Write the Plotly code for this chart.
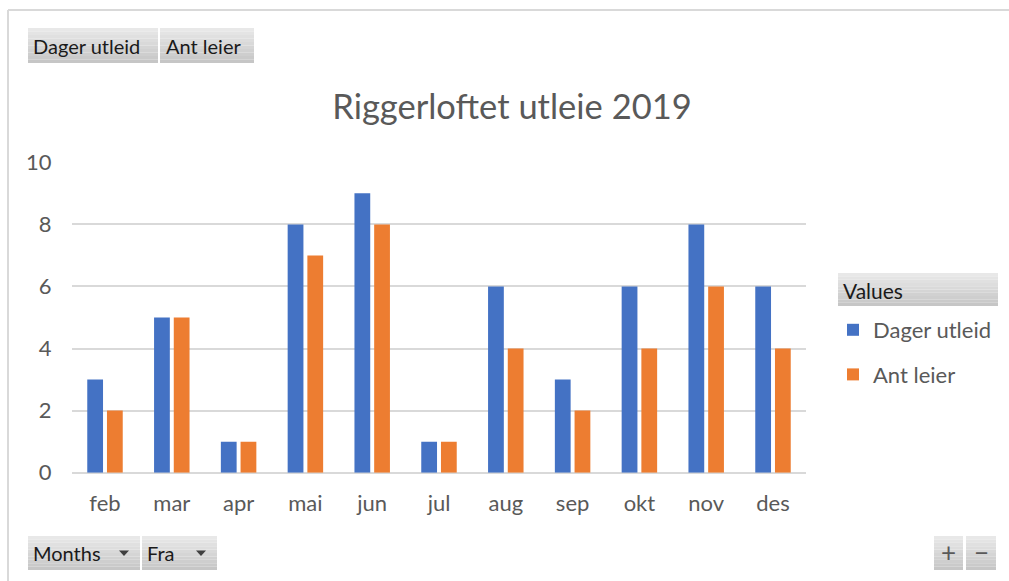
import plotly.graph_objects as go

months = ["feb", "mar", "apr", "mai", "jun", "jul", "aug", "sep", "okt", "nov", "des"]
dager_utleid = [3, 5, 1, 8, 9, 1, 6, 3, 6, 8, 6]
ant_leier = [2, 5, 1, 7, 8, 1, 4, 2, 4, 6, 4]
y_ticks = [0, 2, 4, 6, 8, 10]

W, H = 1009, 581
FONT = "Lato"


def px(x):
    return x / W


def py(y):
    return 1 - y / H


fig = go.Figure()
fig.add_trace(go.Bar(x=months, y=dager_utleid, name="Dager utleid",
                     marker=dict(color="#4472C4", line=dict(width=0)), legendgroup="a"))
fig.add_trace(go.Bar(x=months, y=ant_leier, name="Ant leier",
                     marker=dict(color="#ED7D31", line=dict(width=0)), legendgroup="b"))

shapes = []
annotations = []

# outer frame (top and left edges)
shapes.append(dict(type="line", xref="paper", yref="paper", x0=px(8), x1=px(1009), y0=py(10), y1=py(10),
                   line=dict(color="#d9d9d9", width=2)))
shapes.append(dict(type="line", xref="paper", yref="paper", x0=px(8), x1=px(8), y0=py(10), y1=py(581),
                   line=dict(color="#d9d9d9", width=2)))


def button(x0, y0, x1, y1, n=10):
    top = (232, 232, 232)
    bot = (198, 198, 198)
    h = (y1 - y0) / n
    for i in range(n):
        t = i / (n - 1)
        c = tuple(int(round(top[k] + (bot[k] - top[k]) * t)) for k in range(3))
        shapes.append(dict(type="rect", xref="paper", yref="paper",
                           x0=px(x0), x1=px(x1), y0=py(y0 + h * (i + 1)), y1=py(y0 + h * i),
                           line=dict(width=0), fillcolor="rgb(%d,%d,%d)" % c, layer="below"))


def label(x, y, text, size=20, color="#1a1a1a", xanchor="left"):
    annotations.append(dict(x=px(x), y=py(y), xref="paper", yref="paper", text=text, showarrow=False,
                            xanchor=xanchor, yanchor="middle", font=dict(family=FONT, size=size, color=color)))


def arrow(cx, cy):
    shapes.append(dict(type="path", xref="paper", yref="paper",
                       path="M %f %f L %f %f L %f %f Z" % (px(cx - 5), py(cy - 2.5), px(cx + 5), py(cy - 2.5),
                                                        px(cx), py(cy + 3)),
                       fillcolor="#404040", line=dict(width=0)))


# top field buttons
button(28, 28, 158, 63)
button(160, 28, 254, 63)
label(31, 46, "Dager utleid")
label(164, 46, "Ant leier")

# bottom field buttons
button(28, 536, 140, 570)
button(142, 536, 217, 570)
label(31, 553, "Months")
label(145, 553, "Fra")
arrow(124, 553)
arrow(201, 553)

# zoom buttons
button(934, 536, 963, 570)
button(966, 536, 996, 570)
label(948.5, 552, "+", size=26, color="#595959", xanchor="center")
label(981, 552, "\u2212", size=26, color="#595959", xanchor="center")

# legend header
button(838, 273, 998, 306)
label(841, 290, "Values", size=21)

fig.update_layout(
    width=W, height=H,
    margin=dict(l=0, r=0, t=0, b=0, autoexpand=False),
    paper_bgcolor="white", plot_bgcolor="white",
    barmode="group", bargap=0.41, bargroupgap=0.2,
    title=dict(text="Riggerloftet utleie 2019", x=px(512), xanchor="center", y=py(107), yanchor="middle",
               font=dict(family=FONT, size=34.5, color="#595959")),
    xaxis=dict(domain=[px(71.6), px(806.4)], showgrid=False, showline=False, zeroline=False, ticks="",
               automargin=False,
               tickfont=dict(family=FONT, size=22, color="#595959"), ticklabelstandoff=15),
    yaxis=dict(domain=[py(472.7), py(162.3)], range=[0, 10], tickvals=y_ticks, showline=False,
               automargin=False,
               gridcolor="#d9d9d9", gridwidth=1.5, zeroline=True, zerolinecolor="#d9d9d9", zerolinewidth=1.5,
               ticks="", tickfont=dict(family=FONT, size=22, color="#595959"), ticklabelstandoff=19),
    legend=dict(x=px(833), y=py(309), xanchor="left", yanchor="top", bgcolor="rgba(0,0,0,0)",
                font=dict(family=FONT, size=22, color="#595959"), tracegroupgap=13, itemwidth=30),
    showlegend=True,
    shapes=shapes,
    annotations=annotations,
    font=dict(family=FONT),
)

fig.write_html("out.html", config={"displayModeBar": False},
               post_script="document.body.style.margin='0';document.body.style.overflow='hidden';")
